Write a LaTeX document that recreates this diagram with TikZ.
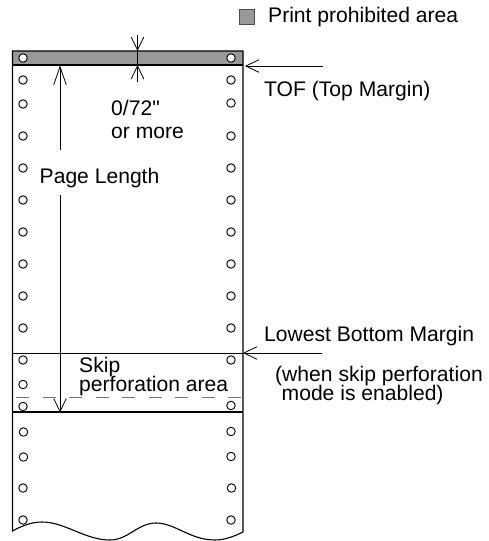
\documentclass[tikz,border=0pt]{standalone}
\usepackage{fontspec}
\setmainfont{Liberation Sans}
\newfontfamily\plainf{Liberation Sans}
\usetikzlibrary{arrows.meta}
\definecolor{band}{gray}{0.6}
\tikzset{
 line/.style={draw=black,line width=1.1pt},
 thin line/.style={draw=black,line width=0.8pt},
 barb/.style={thin line,-{Straight Barb[length=#1,width=12.5pt,line width=0.8pt]}},
 barb/.default=13pt,
 hole/.style={circle,draw=black,line width=0.9pt,fill=white,minimum size=8.5pt,inner sep=0pt},
 label/.style={font=\fontsize{21.1}{24}\selectfont,anchor=base west,inner sep=0pt,align=left},
}
\begin{document}
\begin{tikzpicture}[x=1pt,y=-1pt]
\useasboundingbox (0,0) rectangle (489,541);
\fill[white] (0,0) rectangle (489,541);
% band and paper
\fill[band] (12.5,51) rectangle (243,65);
\path[line] (12.5,531) .. controls (20,527) and (30,522) .. (42,522)
  .. controls (65,522) and (85,540) .. (110,540)
  .. controls (128,540) and (138,523) .. (156,523)
  .. controls (175,523) and (190,540) .. (215,540)
  .. controls (225,540) and (235,536) .. (243,532)
  -- (243,51) -- (12.5,51) -- cycle;
\coordinate (L1) at (12.5,65); \coordinate (R1) at (243,65);
\coordinate (L2) at (12.5,353.5); \coordinate (R2) at (243,353.5);
\coordinate (L3) at (12.5,412); \coordinate (R3) at (243,412);
\coordinate (L4) at (16,397.7); \coordinate (R4) at (243,397.7);
\path[line] (L1) -- (R1);
\path[line] (L2) -- (R2);
\path[line] (L3) -- (R3);
\draw[draw=black!55,line width=1pt,dash pattern=on 13pt off 13.5pt] (L4) -- (R4);
% holes
\foreach \i/\x/\y in {a/23/58,b/23/80,c/23/104,d/23/136,e/23/168,f/23/200,g/23/232,h/23/264,i/23/296,j/23/328,k/23/360,l/23/384.5,m/23/406.5,n/23.5/432,o/23.5/457,p/23/488,q/23/520,
 A/231/58,B/231/80,C/231/103,D/231/136,E/231/168,F/231/200,G/231/232,H/231/264,I/231/296,J/231/328,K/231/360,M/231/405.5,N/231/431.5,O/231/456.5,P/231.5/488,Q/231/520}
 \node[hole] (h\i) at (\x,\y) {};
% legend
\node[draw=black!70,line width=0.9pt,fill=band,minimum size=15pt,inner sep=0pt] (legend) at (247.3,16.5) {};
\node[label] (legendtxt) at (268,22.7) {Print prohibited area};
% labels
\node[label] (tof) at (264,96.5) {TOF (Top Margin)};
\node[label] (gap) at (111,115) {{\plainf 0/72"}};
\node[label] (more) at (111,138) {or more};
\node[label] (pl) at (39.5,183) {Page Length};
\node[label] (skip) at (79,372) {Skip};
\node[label] (perf) at (79,391.7) {perforation area};
\node[label] (low) at (264,341.7) {Lowest Bottom Margin};
\node[label] (when) at (275,381.7) {(when skip perforation};
\node[label] (mode) at (281.5,400.7) {mode is enabled)};
% dimension arrows
\coordinate (t1) at (137.5,35); \coordinate (t2) at (137.5,51);
\coordinate (t3) at (137.5,82); \coordinate (t4) at (137.5,65);
\path[thin line] (t2) -- (t4);
\path[barb] (t1) -- (t2);
\path[barb] (t3) -- (t4);
\coordinate (p1) at (60,150); \coordinate (p2) at (60,65.5);
\coordinate (p3) at (60,195); \coordinate (p4) at (60,412.5);
\path[barb=18pt] (p1) -- (p2);
\path[barb=13pt] (p3) -- (p4);
\coordinate (a1) at (323,66); \coordinate (a2) at (245,66);
\coordinate (b1) at (322,353); \coordinate (b2) at (243,353);
\path[barb] (a1) -- (a2);
\path[barb] (b1) -- (b2);
\end{tikzpicture}
\end{document}
